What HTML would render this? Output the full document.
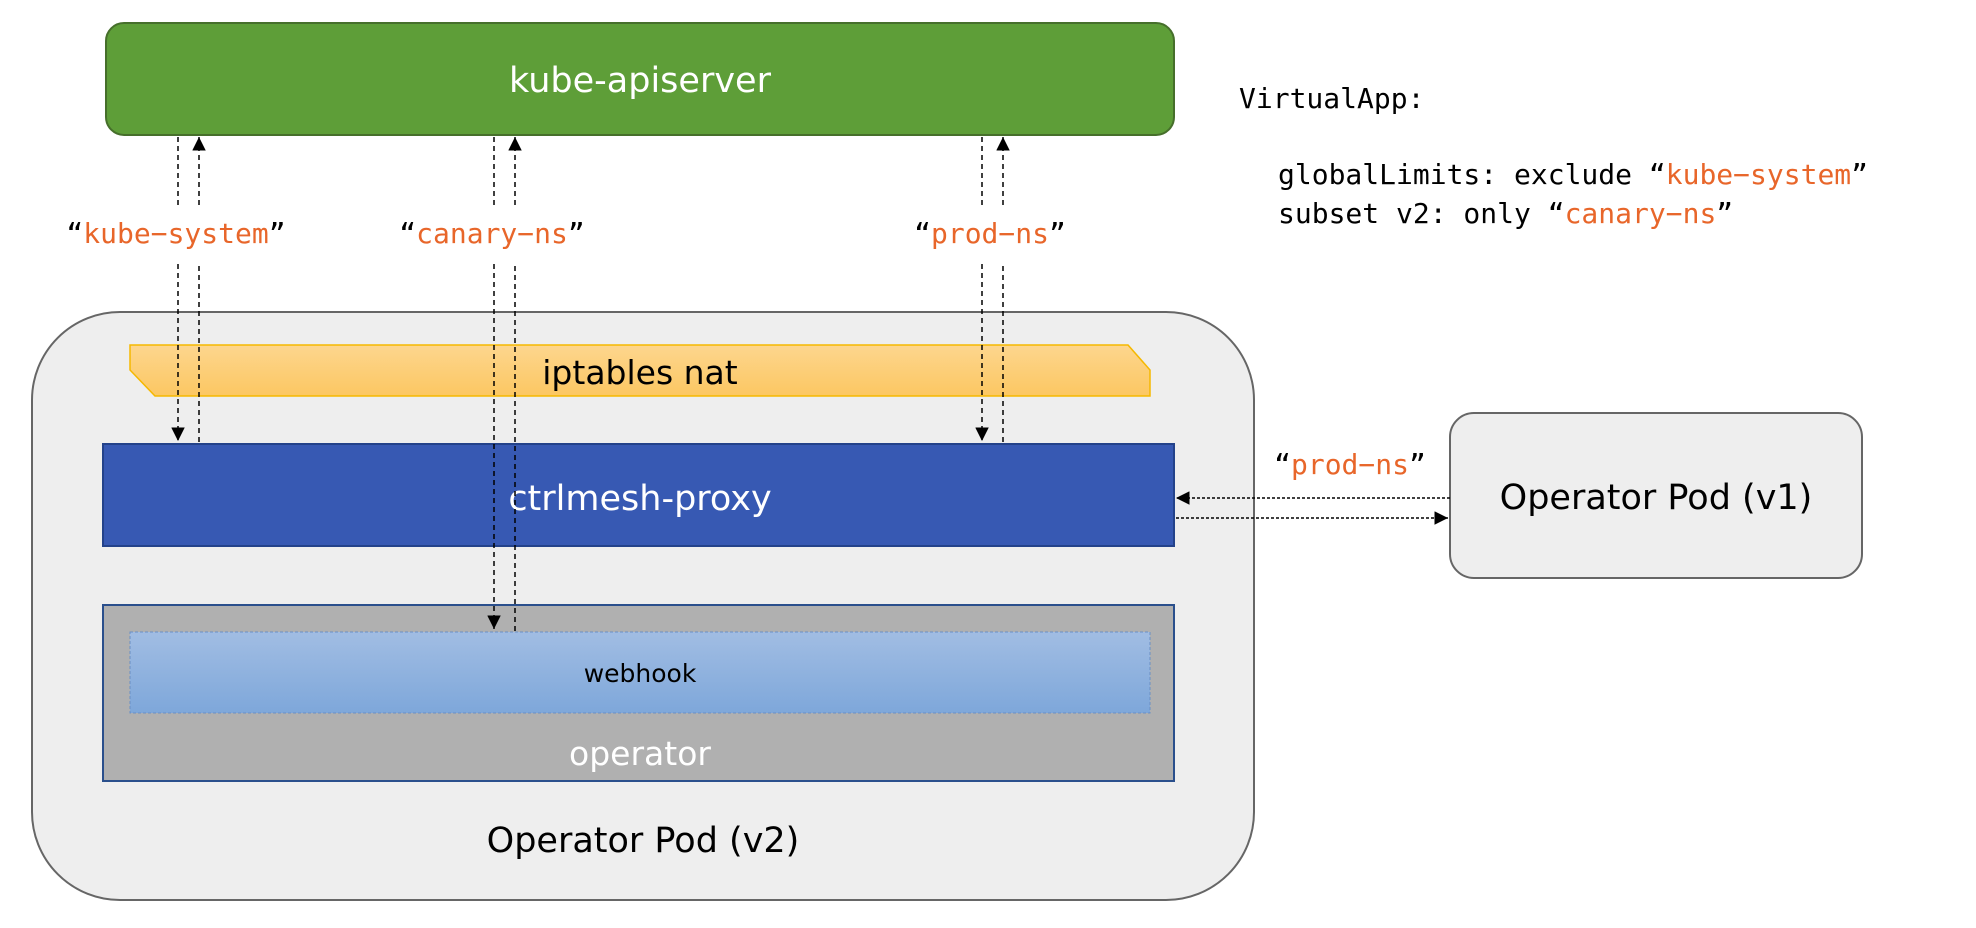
<!DOCTYPE html>
<html><head><meta charset="utf-8"><style>
html,body{margin:0;padding:0;background:#fff;}
svg{display:block;}
.s{font-family:"DejaVu Sans","Liberation Sans",sans-serif;}
.m{font-family:"DejaVu Sans Mono","Liberation Mono",monospace;}
</style></head><body>
<svg width="1976" height="928" viewBox="0 0 1976 928" xmlns="http://www.w3.org/2000/svg">
<defs>
<linearGradient id="yg" x1="0" y1="0" x2="0" y2="1"><stop offset="0" stop-color="#fdd68e"/><stop offset="1" stop-color="#fcc762"/></linearGradient>
<linearGradient id="bg" x1="0" y1="0" x2="0" y2="1"><stop offset="0" stop-color="#a1bde3"/><stop offset="1" stop-color="#7ea7da"/></linearGradient>
<marker id="a" viewBox="0 0 10 10" refX="10" refY="5" markerWidth="9" markerHeight="9" orient="auto-start-reverse"><path d="M0,0L10,5L0,10z" fill="#000"/></marker>
</defs>
<rect x="106" y="23" width="1068" height="112" rx="18" fill="#5e9e38" stroke="#466f2b" stroke-width="2"/>
<text x="640" y="92" class="s" font-size="35" fill="#fff" text-anchor="middle">kube-apiserver</text>
<rect x="32" y="312" width="1222" height="588" rx="88" fill="#eeeeee" stroke="#666" stroke-width="2"/>
<path d="M130,345H1128L1150,370V396H155L130,370Z" fill="url(#yg)" stroke="#f5b800" stroke-width="1.5"/>
<text x="640" y="384" class="s" font-size="33" fill="#000" text-anchor="middle">iptables nat</text>
<rect x="103" y="444" width="1071" height="102" fill="#3759b3" stroke="#23428a" stroke-width="2"/>
<text x="640" y="510" class="s" font-size="35" fill="#fff" text-anchor="middle">ctrlmesh-proxy</text>
<rect x="103" y="605" width="1071" height="176" fill="#b0b0b0" stroke="#2a4f8c" stroke-width="2"/>
<rect x="130" y="632" width="1020" height="81" fill="url(#bg)" stroke="#6a8fc4" stroke-width="1" stroke-dasharray="3,2"/>
<text x="640" y="682" class="s" font-size="25" fill="#000" text-anchor="middle">webhook</text>
<text x="640" y="765" class="s" font-size="33" fill="#fff" text-anchor="middle">operator</text>
<text x="643" y="852" class="s" font-size="35" fill="#000" text-anchor="middle">Operator Pod (v2)</text>
<rect x="1450" y="413" width="412" height="165" rx="24" fill="#eeeeee" stroke="#666" stroke-width="2"/>
<text x="1656" y="509" class="s" font-size="35" fill="#000" text-anchor="middle">Operator Pod (v1)</text>
<g stroke="#000" stroke-width="1.5" stroke-dasharray="5,4" fill="none">
<path d="M178,137V205M178,264V441" marker-end="url(#a)"/>
<path d="M199,442V263M199,205V137" marker-end="url(#a)"/>
<path d="M494,137V205M494,264V629" marker-end="url(#a)"/>
<path d="M515,631V263M515,205V137" marker-end="url(#a)"/>
<path d="M982,137V205M982,264V441" marker-end="url(#a)"/>
<path d="M1003,442V263M1003,205V137" marker-end="url(#a)"/>
</g>
<g stroke="#000" stroke-width="1.5" stroke-dasharray="3,2" fill="none">
<path d="M1450,498H1176" marker-end="url(#a)"/>
<path d="M1176,518H1448" marker-end="url(#a)"/>
</g>
<g class="m" font-size="28">
<text x="176" y="243" text-anchor="middle"><tspan fill="#000">“</tspan><tspan fill="#e8662a">kube−system</tspan><tspan fill="#000">”</tspan></text>
<text x="492" y="243" text-anchor="middle"><tspan fill="#000">“</tspan><tspan fill="#e8662a">canary−ns</tspan><tspan fill="#000">”</tspan></text>
<text x="990" y="243" text-anchor="middle"><tspan fill="#000">“</tspan><tspan fill="#e8662a">prod−ns</tspan><tspan fill="#000">”</tspan></text>
<text x="1350" y="474" text-anchor="middle"><tspan fill="#000">“</tspan><tspan fill="#e8662a">prod−ns</tspan><tspan fill="#000">”</tspan></text>
<text x="1239" y="108" fill="#000">VirtualApp:</text>
<text x="1278" y="184" fill="#000">globalLimits: exclude “<tspan fill="#e8662a">kube−system</tspan>”</text>
<text x="1278" y="223" fill="#000">subset v2: only “<tspan fill="#e8662a">canary−ns</tspan>”</text>
</g>
</svg>
</body></html>
